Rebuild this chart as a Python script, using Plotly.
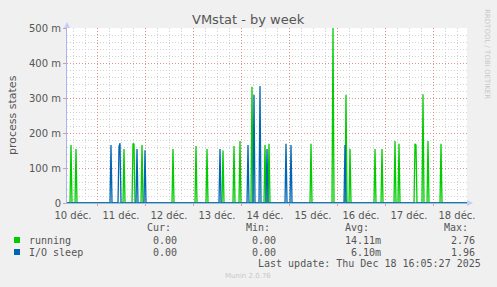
import plotly.graph_objects as go
from datetime import datetime, timedelta

# ---------------- data ----------------
running_times = [
    "2025-12-10 11:00", "2025-12-10 13:30", "2025-12-11 13:30", "2025-12-11 18:00",
    "2025-12-11 18:30", "2025-12-11 22:30", "2025-12-12 14:00", "2025-12-13 01:30",
    "2025-12-13 07:00", "2025-12-13 15:00", "2025-12-13 20:30", "2025-12-13 23:30",
    "2025-12-14 05:30", "2025-12-14 12:00", "2025-12-14 14:00", "2025-12-15 11:00",
    "2025-12-15 22:00", "2025-12-16 04:30", "2025-12-16 06:30", "2025-12-16 19:00",
    "2025-12-16 22:30", "2025-12-17 05:00", "2025-12-17 07:00", "2025-12-17 15:00",
    "2025-12-17 15:30", "2025-12-17 19:00", "2025-12-17 21:30", "2025-12-18 04:00",
]
running_values = [
    0.166, 0.154, 0.154, 0.170,
    0.168, 0.166, 0.154, 0.163,
    0.154, 0.150, 0.163, 0.177,
    0.332, 0.166, 0.169, 0.169,
    0.500, 0.309, 0.154, 0.154,
    0.154, 0.177, 0.169, 0.169,
    0.166, 0.311, 0.177, 0.169,
]
io_times = [
    "2025-12-11 07:00", "2025-12-11 11:00", "2025-12-11 11:30", "2025-12-11 20:00",
    "2025-12-12 00:00", "2025-12-13 13:30", "2025-12-14 03:30", "2025-12-14 06:30",
    "2025-12-14 09:30", "2025-12-14 13:00", "2025-12-14 22:30", "2025-12-15 01:00",
    "2025-12-16 04:00",
]
io_values = [
    0.166, 0.161, 0.171, 0.154,
    0.151, 0.154, 0.166, 0.309,
    0.334, 0.154, 0.169, 0.166,
    0.166,
]

day_label_times = ["2025-12-%02d 12:00" % d for d in range(10, 19)]
day_labels = ["%d déc." % d for d in range(10, 19)]
midnights = ["2025-12-%02d 00:00" % d for d in range(11, 19)]

y_tickvals = [0, 0.1, 0.2, 0.3, 0.4, 0.5]
y_ticktext = ["0", "100 m", "200 m", "300 m", "400 m", "500 m"]

legend_names = ["running", "I/O sleep"]
legend_colors = ["#00CC00", "#0066B3"]
legend_cur = ["0.00", "0.00"]
legend_min = ["0.00", "0.00"]
legend_avg = ["14.11m", "6.10m"]
legend_max = ["2.76", "1.96"]

x_start = datetime(2025, 12, 10, 9, 0)
x_end = datetime(2025, 12, 18, 17, 0)
step = timedelta(minutes=30)


def build_series(times, values):
    lookup = {datetime.strptime(t, "%Y-%m-%d %H:%M"): v for t, v in zip(times, values)}
    xs, ys = [], []
    t = x_start
    while t <= x_end:
        xs.append(t)
        ys.append(lookup.get(t, 0.0))
        t += step
    return xs, ys


# ---------------- geometry helpers ----------------
W, H = 497, 287
L, R, T, B = 67, 467, 28, 203


def px(x):
    return (x - L) / (R - L)


def py(y):
    return (B - y) / (B - T)


fig = go.Figure()
for name, col, tt, vv in [("running", legend_colors[0], running_times, running_values),
                          ("I/O sleep", legend_colors[1], io_times, io_values)]:
    xs, ys = build_series(tt, vv)
    fig.add_trace(go.Scatter(x=xs, y=ys, mode="lines", name=name,
                             line=dict(color=col, width=1.3), showlegend=False,
                             hoverinfo="skip"))

# invisible trace for the label axis
fig.add_trace(go.Scatter(x=day_label_times, y=[0] * len(day_label_times), xaxis="x2",
                         mode="markers", marker=dict(opacity=0), showlegend=False,
                         hoverinfo="skip"))

major_grid = "rgba(230,120,120,0.75)"
minor_grid = "#D2D2D2"
axis_col = "#A8B4EC"
txt_col = "#555555"

fig.update_layout(
    width=W, height=H,
    margin=dict(l=L, r=W - R, t=T, b=H - B, pad=0),
    paper_bgcolor="#F0F0F0",
    plot_bgcolor="#FFFFFF",
    font=dict(family="DejaVu Sans", size=10, color=txt_col),
    xaxis=dict(
        type="date", range=[x_start, x_end],
        tickmode="array", tickvals=midnights, showticklabels=False,
        showgrid=True, gridcolor=major_grid, griddash="1px,2px", gridwidth=1,
        ticks="outside", ticklen=2, tickcolor=major_grid,
        minor=dict(dtick=6 * 3600 * 1000, tick0="2025-12-11", showgrid=True,
                   gridcolor=minor_grid, griddash="1px,2px", gridwidth=1),
        showline=True, linecolor=axis_col, linewidth=1,
        zeroline=False, fixedrange=True,
    ),
    xaxis2=dict(
        type="date", range=[x_start, x_end], overlaying="x", anchor="y", side="bottom",
        tickmode="array", tickvals=day_label_times, ticktext=day_labels,
        showgrid=False, ticks="outside", ticklen=3, tickcolor="rgba(0,0,0,0)",
        tickfont=dict(family="DejaVu Sans", size=10, color=txt_col),
        showline=False, zeroline=False,
    ),
    yaxis=dict(
        range=[0, 0.5], tickmode="array", tickvals=y_tickvals, ticktext=y_ticktext,
        showgrid=True, gridcolor=major_grid, griddash="1px,2px", gridwidth=1,
        minor=dict(dtick=0.02, tick0=0, showgrid=True, gridcolor=minor_grid,
                   griddash="1px,2px", gridwidth=1),
        ticks="outside", ticklen=3, tickcolor=major_grid,
        tickfont=dict(family="DejaVu Sans", size=10, color=txt_col),
        showline=True, linecolor=axis_col, linewidth=1,
        zeroline=False, fixedrange=True,
    ),
)

annotations = []
# title
annotations.append(dict(x=px(248), y=py(19), xref="paper", yref="paper", text="VMstat - by week",
                        showarrow=False, xanchor="center", yanchor="middle",
                        font=dict(family="DejaVu Sans", size=13, color=txt_col)))
# y axis title
annotations.append(dict(x=px(12), y=py(115), xref="paper", yref="paper", text="process states",
                        showarrow=False, textangle=-90, xanchor="center", yanchor="middle",
                        font=dict(family="DejaVu Sans", size=11, color=txt_col)))
# rrdtool watermark
annotations.append(dict(x=px(487), y=py(54), xref="paper", yref="paper", text="RRDTOOL / TOBI OETIKER",
                        showarrow=False, textangle=90, xanchor="center", yanchor="middle",
                        font=dict(family="DejaVu Sans", size=7, color="#C8C8C8")))

mono = "DejaVu Sans Mono"
mfont = dict(family=mono, size=10, color=txt_col)
for label, xr in [("Cur:", 173), ("Min:", 272), ("Avg:", 371), ("Max:", 470)]:
    annotations.append(dict(x=px(xr), y=py(227.5), xref="paper", yref="paper", text=label,
                            showarrow=False, xanchor="right", yanchor="middle", font=mfont))

row_y = [240, 252]
for i in range(2):
    annotations.append(dict(x=px(27), y=py(row_y[i]), xref="paper", yref="paper",
                            text=legend_names[i], showarrow=False, xanchor="left",
                            yanchor="middle", font=mfont))
    for val, xr in [(legend_cur[i], 179), (legend_min[i], 278), (legend_avg[i], 383),
                    (legend_max[i], 477)]:
        annotations.append(dict(x=px(xr), y=py(row_y[i]), xref="paper", yref="paper", text=val,
                                showarrow=False, xanchor="right", yanchor="middle", font=mfont))

annotations.append(dict(x=px(483), y=py(263.5), xref="paper", yref="paper",
                        text="Last update: Thu Dec 18 16:05:27 2025", showarrow=False,
                        xanchor="right", yanchor="middle", font=mfont))
annotations.append(dict(x=px(248), y=py(276), xref="paper", yref="paper", text="Munin 2.0.76",
                        showarrow=False, xanchor="center", yanchor="middle",
                        font=dict(family="DejaVu Sans", size=7, color="#C8C8C8")))
fig.update_layout(annotations=annotations)

shapes = []
# legend swatches
for i in range(2):
    shapes.append(dict(type="rect", xref="paper", yref="paper",
                       x0=px(14), x1=px(20), y0=py(row_y[i] + 3), y1=py(row_y[i] - 3),
                       fillcolor=legend_colors[i], line=dict(width=0)))
# axis arrows
shapes.append(dict(type="path", xref="paper", yref="paper",
                   path="M %f,%f L %f,%f L %f,%f Z" % (px(467), py(200), px(473), py(203),
                                                       px(467), py(206)),
                   fillcolor="#C4CCF6", line=dict(width=0)))
shapes.append(dict(type="path", xref="paper", yref="paper",
                   path="M %f,%f L %f,%f L %f,%f Z" % (px(64), py(28), px(67), py(22),
                                                       px(70), py(28)),
                   fillcolor="#C4CCF6", line=dict(width=0)))
fig.update_layout(shapes=shapes)

fig.write_html("out.html")
